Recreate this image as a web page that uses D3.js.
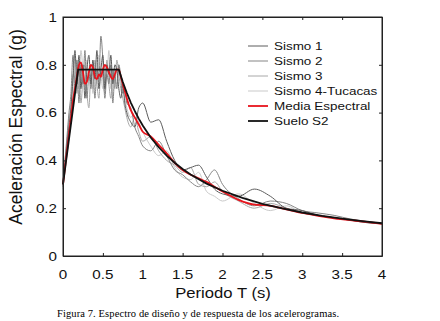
<!DOCTYPE html>
<html>
<head>
<meta charset="utf-8">
<script src="https://cdn.jsdelivr.net/npm/d3@7"></script>
<style>
  body { margin: 0; background: #fff; }
</style>
</head>
<body>
<div id="chart"></div>
<script>
// periodo T (s)
const periods = [0, 0.025, 0.05, 0.075, 0.1, 0.125, 0.15, 0.175, 0.2, 0.225, 0.25, 0.275, 0.3, 0.325, 0.35, 0.375, 0.4,
  0.425, 0.45, 0.475, 0.5, 0.525, 0.55, 0.575, 0.6, 0.625, 0.65, 0.675, 0.7, 0.725, 0.75, 0.775, 0.8,
  0.85, 0.9, 0.95, 1, 1.1, 1.2, 1.3, 1.4, 1.5, 1.6, 1.7, 1.8, 1.9, 2, 2.2, 2.4, 2.6, 2.8, 3, 3.2, 3.4, 3.6, 3.8, 4];

// aceleracion espectral (g) de cada registro
const sismo1 = [.30, .38, .46, .54, .62, .74, .86, .72, .84, .70, .80, .66, .78, .84, .72, .82, .74, .86, .70, .78, .84, .70, .80, .76, .84, .72, .80, .78, .70, .66, .72, .64, .60,
  .56, .54, .62, .64, .56, .57, .48, .40, .36, .37, .38, .33, .28, .26, .25, .28, .25, .20, .19, .17, .16, .15, .14, .135];
const sismo2 = [.29, .40, .50, .60, .68, .84, .70, .82, .64, .80, .72, .86, .66, .76, .70, .80, .66, .78, .74, .92, .82, .66, .76, .72, .80, .64, .76, .70, .80, .74, .68, .70, .64,
  .62, .54, .50, .46, .44, .48, .42, .36, .34, .31, .29, .32, .36, .30, .24, .21, .23, .22, .19, .18, .17, .155, .145, .135];
const sismo3 = [.31, .40, .48, .58, .62, .76, .74, .68, .78, .64, .74, .80, .68, .62, .76, .70, .82, .72, .66, .78, .74, .68, .82, .72, .66, .78, .70, .82, .76, .70, .66, .62, .58,
  .54, .58, .52, .48, .50, .44, .40, .38, .35, .37, .30, .29, .31, .27, .23, .20, .22, .20, .18, .17, .16, .15, .14, .135];
const sismo4 = [.28, .38, .47, .56, .64, .66, .84, .76, .70, .86, .78, .70, .82, .74, .80, .68, .78, .72, .84, .76, .70, .80, .74, .86, .70, .78, .74, .72, .80, .76, .70, .66, .62,
  .58, .60, .56, .52, .46, .42, .44, .37, .33, .32, .35, .27, .25, .23, .26, .22, .19, .21, .18, .17, .16, .15, .14, .135];
const media = [.30, .37, .44, .51, .58, .65, .70, .75, .80, .81, .77, .72, .73, .77, .80, .79, .75, .74, .76, .75, .78, .80, .79, .77, .75, .74, .76, .78, .78, .75, .72, .69, .66,
  .61, .58, .55, .52, .50, .465, .43, .39, .36, .34, .325, .31, .29, .27, .235, .215, .21, .195, .18, .168, .158, .15, .143, .135];

// espectro de diseño, suelo S2
const sueloT = [0, 0.19, 0.7, 0.75, 0.8, 0.85, 0.9, 0.95, 1, 1.1, 1.2, 1.3, 1.4, 1.5, 1.6, 1.8, 2, 2.25, 2.5, 2.75, 3, 3.25, 3.5, 3.75, 4];
const sueloSa = [.30, .78, .78, .728, .683, .642, .607, .575, .546, .496, .455, .42, .39, .364, .341, .303, .273, .243, .218, .199, .182, .168, .156, .146, .137];

const seriesNames = ["Sismo 1", "Sismo 2", "Sismo 3", "Sismo 4-Tucacas", "Media Espectral", "Suelo S2"];
const xTicks = [0, 0.5, 1, 1.5, 2, 2.5, 3, 3.5, 4];
const yTicks = [0, 0.2, 0.4, 0.6, 0.8, 1];

const width = 440, height = 321;
const plotLeft = 63, plotRight = 382, plotTop = 17, plotBottom = 256;

const svg = d3.select("#chart").append("svg")
  .attr("width", width)
  .attr("height", height)
  .style("font-family", "Arial, 'Liberation Sans', sans-serif");

const x = d3.scaleLinear().domain([0, 4]).range([plotLeft, plotRight]);
const y = d3.scaleLinear().domain([0, 1]).range([plotBottom, plotTop]);

// text looks a bit wide in the original, stretch it horizontally
function wideText(px, py, txt, size, sx, anchor) {
  return svg.append("text")
    .attr("transform", "translate(" + px + "," + py + ") scale(" + sx + ",1)")
    .attr("text-anchor", anchor)
    .attr("font-size", size)
    .attr("fill", "#111")
    .text(txt);
}

// curves
const colors = ["#5c5c5c", "#858585", "#a8a8a8", "#c9c9c9", "#e8141c", "#111"];
const grays = [sismo4, sismo3, sismo2, sismo1];
const grayColors = [colors[3], colors[2], colors[1], colors[0]];

const line = d3.line()
  .x((d, i) => x(periods[i]))
  .y(d => y(d))
  .curve(d3.curveMonotoneX);

grays.forEach(function (s, k) {
  svg.append("path")
    .datum(s)
    .attr("fill", "none")
    .attr("stroke", grayColors[k])
    .attr("stroke-width", 1)
    .attr("d", line);
});

svg.append("path")
  .datum(media)
  .attr("fill", "none")
  .attr("stroke", colors[4])
  .attr("stroke-width", 1.8)
  .attr("d", line);

const sueloLine = d3.line()
  .x((d, i) => x(sueloT[i]))
  .y(d => y(d));

svg.append("path")
  .datum(sueloSa)
  .attr("fill", "none")
  .attr("stroke", colors[5])
  .attr("stroke-width", 1.8)
  .attr("d", sueloLine);

// axes, ticks inside on all four sides
svg.append("g").attr("transform", "translate(0," + plotBottom + ")")
  .call(d3.axisBottom(x).tickValues(xTicks).tickSizeInner(-3).tickSizeOuter(0).tickFormat(""));
svg.append("g").attr("transform", "translate(0," + plotTop + ")")
  .call(d3.axisTop(x).tickValues(xTicks).tickSizeInner(-3).tickSizeOuter(0).tickFormat(""));
svg.append("g").attr("transform", "translate(" + plotLeft + ",0)")
  .call(d3.axisLeft(y).tickValues(yTicks).tickSizeInner(-3).tickSizeOuter(0).tickFormat(""));
svg.append("g").attr("transform", "translate(" + plotRight + ",0)")
  .call(d3.axisRight(y).tickValues(yTicks).tickSizeInner(-3).tickSizeOuter(0).tickFormat(""));
svg.selectAll(".domain, .tick line").attr("stroke", "#222");

svg.append("rect")
  .attr("x", plotLeft).attr("y", plotTop)
  .attr("width", plotRight - plotLeft).attr("height", plotBottom - plotTop)
  .attr("fill", "none").attr("stroke", "#222").attr("stroke-width", 1);

// tick labels
xTicks.forEach(function (t) {
  wideText(x(t), 279, d3.format("")(t), 13, 1.17, "middle");
});
yTicks.forEach(function (t) {
  wideText(57, y(t) + 4.7, d3.format("")(t), 13, 1.17, "end");
});

// axis titles
wideText(223, 298, "Periodo T (s)", 14, 1.19, "middle");
svg.append("text")
  .attr("transform", "translate(22,127) rotate(-90)")
  .attr("text-anchor", "middle")
  .attr("font-size", 17.5)
  .attr("fill", "#111")
  .text("Aceleración Espectral (g)");

// legend
seriesNames.forEach(function (name, i) {
  const ly = 46 + i * 15;
  svg.append("line")
    .attr("x1", 248).attr("x2", 268)
    .attr("y1", ly).attr("y2", ly)
    .attr("stroke", colors[i])
    .attr("stroke-width", i >= 4 ? 1.8 : 1);
  wideText(274, ly + 4.3, name, 11.8, 1.14, "start");
});

// caption
svg.append("text")
  .attr("x", 57).attr("y", 317)
  .attr("font-family", "'Liberation Serif', 'Times New Roman', serif")
  .attr("font-size", 10.5)
  .attr("textLength", 282)
  .attr("fill", "#000")
  .text("Figura 7. Espectro de diseño y de respuesta de los acelerogramas.");
</script>
</body>
</html>
